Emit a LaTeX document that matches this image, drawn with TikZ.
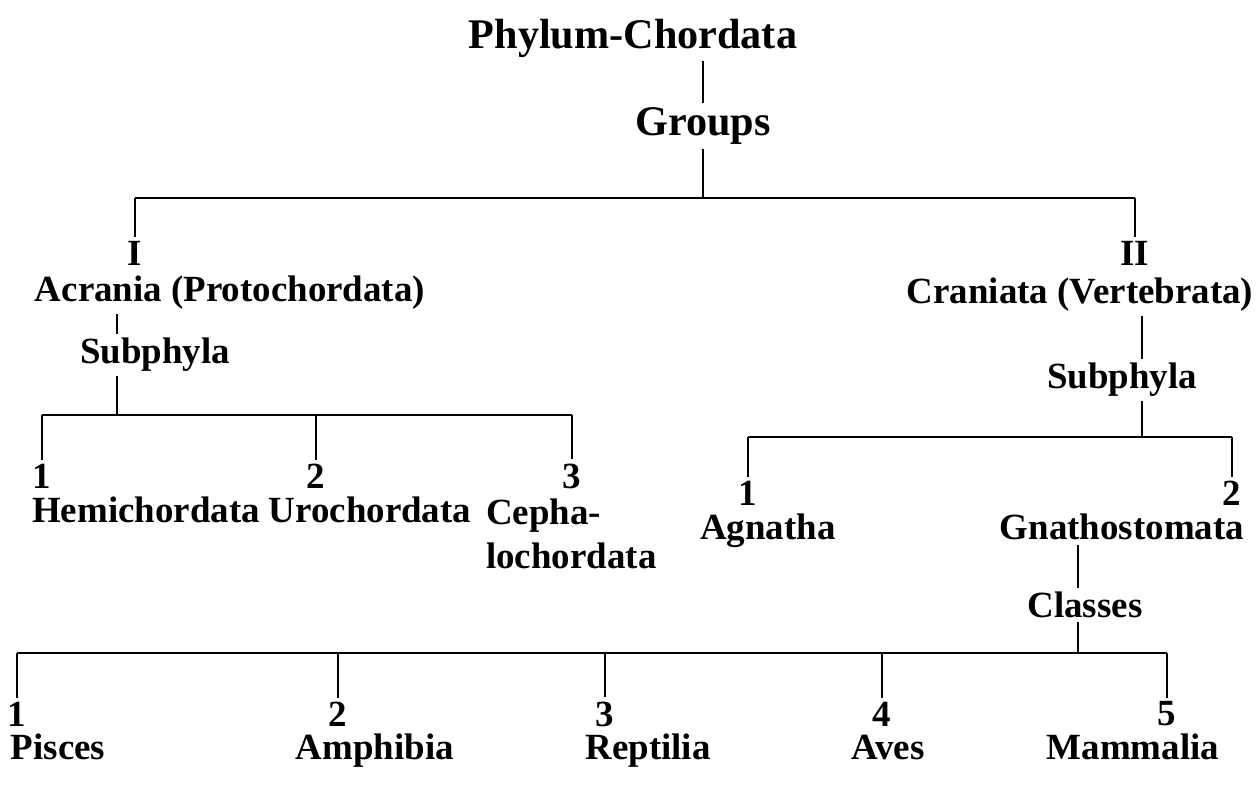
\documentclass[tikz,border=0pt]{standalone}
\usepackage{fontspec}
\setmainfont{Liberation Serif}
\usetikzlibrary{positioning}

\tikzset{
  lbl/.style={font=\fontsize{10.5}{12.5}\selectfont\bfseries, inner sep=1pt},
  big/.style={font=\fontsize{12}{14}\selectfont\bfseries, inner sep=1pt},
  num/.style={font=\fontsize{10.5}{12}\selectfont\bfseries, inner sep=1pt},
  stem/.style={line width=0.55pt},
  bar/.style={line width=0.85pt},
}

\begin{document}
\begin{tikzpicture}[x=0.01cm, y=-0.01cm]
  \useasboundingbox (0,0) rectangle (1259,785);
  % top
  \node[big] (phylum) at (633,38) {Phylum-Chordata};
  \node[big] (groups) at (703,126) {Groups};
  \draw[stem] (phylum.south -| groups) -- (groups.north);
  \coordinate (j1) at (703,198);
  \draw[stem] (groups.south) -- (j1);
  \node[lbl] (numI) at (135,253) {I};
  \node[lbl] (numII) at (1135,253) {II};
  \draw[bar] (j1 -| numI) -- (j1 -| numII);
  \draw[stem] (j1 -| numI) -- (numI.north); \draw[stem] (j1 -| numII) -- (numII.north);
  \node[lbl] (acrania) at (230,293) {Acrania (Protochordata)};
  \node[lbl] (craniata) at (1080,295) {Craniata (Vertebrata)};

  % acrania side
  \coordinate (j2) at (117,415);
  \node[lbl] (subL) at (155,355) {Subphyla};
  \draw[stem] (acrania.south -| j2) -- (subL.north -| j2);
  \draw[stem] (subL.south -| j2) -- (j2);
  \node[num] (p1) at (42,476) {1}; \node[num] (p2) at (316,476) {2}; \node[num] (p3) at (572,476) {3};
  \draw[bar] (j2 -| p1) -- (j2 -| p3);
  \draw[stem] (j2 -| p1) -- (p1.north); \draw[stem] (j2 -| p2) -- (p2.north); \draw[stem] (j2 -| p3) -- (p3.north);
  \node[lbl, anchor=base] (hemi) at (146,523) {Hemichordata};
  \node[lbl, anchor=base] (uro) at (370,523) {Urochordata};
  \node[lbl, anchor=north west, align=left] (cepha) at (482,495) {Cepha-\\lochordata};

  % craniata side
  \coordinate (j3) at (1142,437);
  \node[lbl] (subR) at (1122,380) {Subphyla};
  \draw[stem] (craniata.south -| j3) -- (subR.north -| j3);
  \draw[stem] (subR.south -| j3) -- (j3);
  \node[num] (q1) at (748,493) {1}; \node[num] (q2) at (1232,493) {2};
  \draw[bar] (j3 -| q1) -- (j3 -| q2);
  \draw[stem] (j3 -| q1) -- (q1.north); \draw[stem] (j3 -| q2) -- (q2.north);
  \node[lbl, anchor=base] (agnatha) at (768,540) {Agnatha};
  \node[lbl, anchor=base] (gnatho) at (1122,540) {Gnathostomata};

  % classes
  \coordinate (j4) at (1078,653);
  \node[lbl] (classes) at (1085,605) {Classes};
  \draw[stem] (gnatho.south -| j4) -- (classes.north -| j4);
  \draw[stem] (classes.south -| j4) -- (j4);
  \foreach \i/\x/\lx/\t in {1/17/58/Pisces, 2/338/375/Amphibia, 3/605/648/Reptilia, 4/882/888/Aves, 5/1167/1133/Mammalia} {
    \node[num] (k\i) at (\x,714) {\i};
    \node[lbl, anchor=base] (cl\i) at (\lx,760) {\t};
    \draw[stem] (j4 -| k\i) -- (k\i.north);
  }
  \draw[bar] (j4 -| k1) -- (j4 -| k5);
\end{tikzpicture}
\end{document}
